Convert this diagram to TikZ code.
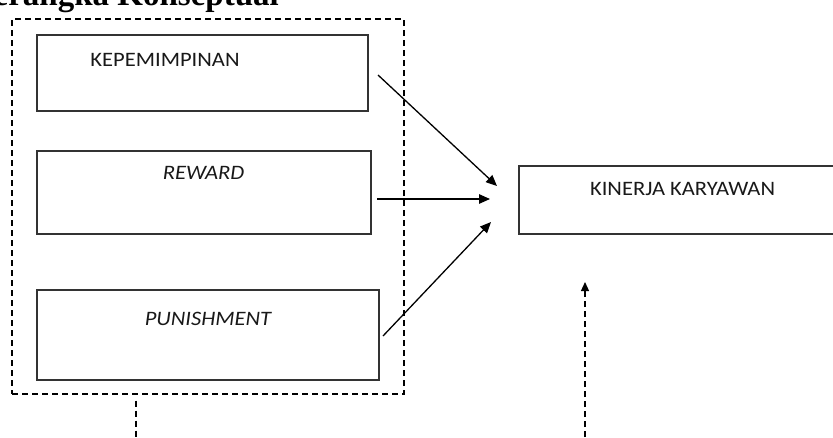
\documentclass[tikz,border=0pt]{standalone}
\usepackage{fontspec}
\setmainfont{Carlito}
\newfontfamily\boxfont[FakeStretch=1.1]{Carlito}
\newfontfamily\titlefont{Liberation Serif}
\usetikzlibrary{arrows.meta}
\begin{document}
\begin{tikzpicture}[x=1pt,y=-1pt,
  box/.style={draw=black!80, line width=1.7pt, inner sep=0pt, minimum width=#1},
  lbl/.style={font=\boxfont\fontsize{20.5}{24}\selectfont, text=black!90, inner sep=0pt, anchor=base},
  arr/.style={-{Triangle[length=11pt,width=9.5pt]}, line width=1.3pt},
  dsh/.style={dash pattern=on 6pt off 4pt, line width=1.2pt}]
\useasboundingbox (0,0) rectangle (833,437);
\clip (0,0) rectangle (833,437);
% title (cut off at top, as in the reference)
\node[anchor=base east, inner sep=0pt, font=\titlefont\bfseries\fontsize{33}{38}\selectfont] (title) at (279,5) {Kerangka Konseptual};
% dashed group
\node[draw, dsh, minimum width=392pt, minimum height=375pt, inner sep=0pt] (grp) at (208,206.5) {};
% boxes
\node[box=331pt, minimum height=76pt] (b1) at (202.5,73) {};
\node[box=334pt, minimum height=83pt] (b2) at (204,192.5) {};
\node[box=342pt, minimum height=90pt] (b3) at (208,335) {};
\node[box=330pt, minimum height=68pt] (k) at (684,200) {};
% labels
\node[lbl] (t1) at (165,66) {KEPEMIMPINAN};
\node[lbl] (t2) at (203.5,179) {\itshape REWARD};
\node[lbl] (t3) at (208,325.5) {\itshape PUNISHMENT};
\node[lbl] (t4) at (682.5,195) {KINERJA KARYAWAN};
% arrows
\coordinate (a1s) at (378,75);
\coordinate (a1e) at (497,186);
\coordinate (a2s) at (377,199);
\coordinate (a2e) at (490,199);
\coordinate (a3s) at (383,336);
\coordinate (a3e) at (491,222);
\draw[arr] (a1s) -- (a1e);
\draw[arr] (a2s) -- (a2e);
\draw[arr] (a3s) -- (a3e);
% dashed connectors
\coordinate (d1) at (136,437);
\coordinate (u1s) at (585,437);
\coordinate (u1e) at (585,282);
\draw[dsh] (grp.south -| d1) ++(0,6) -- (d1);
\draw[dsh, -{Triangle[length=9pt,width=8pt]}] (u1s) -- (u1e);
\end{tikzpicture}
\end{document}
